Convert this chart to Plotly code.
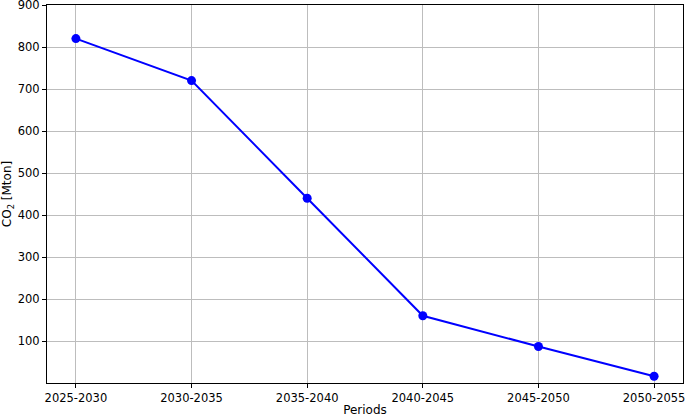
import plotly.graph_objects as go

periods = ["2025-2030", "2030-2035", "2035-2040", "2040-2045", "2045-2050", "2050-2055"]
co2_mton = [820, 720, 440, 160, 87, 16]
y_ticks = [100, 200, 300, 400, 500, 600, 700, 800, 900]

fig = go.Figure(
    go.Scatter(
        x=list(range(len(periods))),
        y=co2_mton,
        mode="lines+markers",
        line=dict(color="blue", width=2),
        marker=dict(color="blue", size=9),
    )
)

axis_style = dict(
    showline=True,
    linecolor="black",
    linewidth=1,
    mirror=True,
    showgrid=True,
    gridcolor="#bdbdbd",
    gridwidth=1,
    ticks="outside",
    ticklen=4,
    tickcolor="black",
    zeroline=False,
    automargin=False,
    ticklabeloverflow="allow",
    tickfont=dict(family="DejaVu Sans", size=11.5, color="black"),
)

fig.update_xaxes(
    tickmode="array",
    tickvals=list(range(len(periods))),
    ticktext=periods,
    range=[-0.25, 5.25],
    title=dict(text="Periods", standoff=2, font=dict(family="DejaVu Sans", size=12, color="black")),
    **axis_style,
)
fig.update_yaxes(
    tickmode="array",
    tickvals=y_ticks,
    range=[0, 900],
    title=dict(text="CO<sub>2</sub> [Mton]", standoff=4, font=dict(family="DejaVu Sans", size=12, color="black")),
    **axis_style,
)

fig.update_layout(
    width=685,
    height=417,
    margin=dict(l=47, r=2, t=5, b=33.5),
    plot_bgcolor="white",
    paper_bgcolor="white",
    showlegend=False,
    font=dict(family="DejaVu Sans", color="black"),
)

# drop the browser's default body margin so the figure sits at the page corner
fig.write_html(
    "out.html",
    config={"displayModeBar": False},
    post_script="document.body.style.margin='0';",
)
